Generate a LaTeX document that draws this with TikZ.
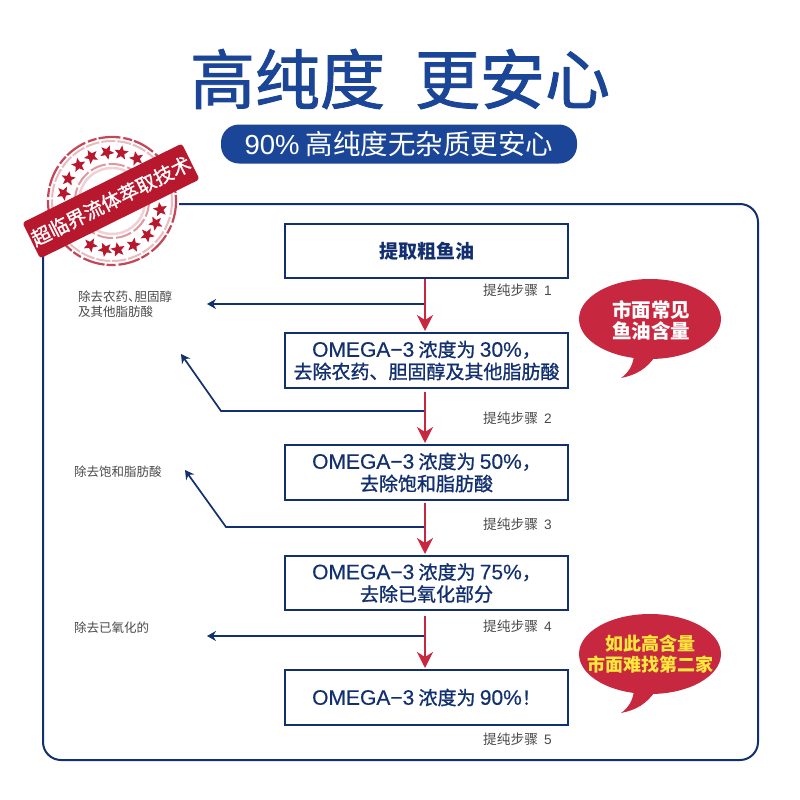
\documentclass[tikz,border=0pt]{standalone}
\usepackage{fontspec}
\usetikzlibrary{shapes.geometric,arrows.meta}
\setmainfont{Noto Sans CJK SC}
\newfontfamily\lat{Liberation Sans}
\newfontfamily\medfont[FakeBold=1.1]{Noto Sans CJK SC}
\newfontfamily\titlefont[FakeBold=1.4]{Noto Sans CJK SC}
\newfontfamily\latmed[FakeBold=0.4]{Liberation Sans}
\newcommand{\om}[1]{{\fontsize{21}{23}\latmed #1}}
\newcommand{\stepnum}[1]{\hspace{3pt}{\lat #1}}
\definecolor{navy}{HTML}{12306F}
\definecolor{titleblue}{HTML}{1B4596}
\definecolor{crimson}{HTML}{C8283F}
\definecolor{stampred}{HTML}{B8182E}
\definecolor{graytext}{HTML}{4A4A4A}
\definecolor{bubbleyellow}{HTML}{FFE83C}
\tikzset{
  flowbox/.style={draw=navy,line width=2pt,fill=white,minimum width=283pt,align=center,text=navy,inner sep=0pt,font=\fontsize{19}{22}\selectfont\medfont},
  redarrow/.style={draw=crimson,line width=2.4pt,-{Stealth[length=16pt,width=16pt,inset=5pt]}},
  bluearrow/.style={draw=navy,line width=1.7pt,-{Stealth[length=9pt,width=10pt,inset=3pt]}},
  steplabel/.style={text=graytext,anchor=west,inner sep=0pt,font=\fontsize{13.7}{15}\selectfont},
  sidelabel/.style={text=graytext,anchor=north west,align=left,inner sep=0pt,font=\fontsize{12.5}{14.5}\selectfont},
  starmark/.style={star,star points=5,star point ratio=2.3,fill=stampred,minimum size=15pt,inner sep=0pt},
  bubbletext/.style={align=center,inner sep=0pt,font=\fontsize{19.5}{21}\selectfont\bfseries},
}
\begin{document}
\begin{tikzpicture}[x=1pt,y=-1pt]
\useasboundingbox (0,0) rectangle (800,800);
% title
\node[text=titleblue,inner sep=0pt,font=\fontsize{65}{70}\selectfont\titlefont] (title) at (400,79) {高纯度\hspace{30pt}更安心};
\node[fill=titleblue,rounded corners=18pt,minimum width=356pt,minimum height=39pt,inner sep=0pt,text=white,font=\fontsize{27.5}{30}\selectfont] (pill) at (399,144) {{\lat 90\%} 高纯度无杂质更安心};
% frame
\draw[navy,line width=2pt,rounded corners=18pt] (43,204) rectangle (758,760);
% stamp
\fill[white] (112,201) circle (67);
\draw[stampred!80,line width=2.2pt,dash pattern=on 22pt off 3pt on 9pt off 2pt] (112,201) circle (64);
\draw[stampred!30,line width=2pt,dash pattern=on 14pt off 2pt] (112,201) circle (60);
\draw[stampred!45,line width=2pt,dash pattern=on 16pt off 3pt] (112,201) circle (37);
\draw[stampred!20,line width=2.5pt] (112,201) circle (33);
\foreach \a in {10,27,44,64,83,98,116,189,207,227,245,264,281,300}
  \node[starmark,rotate=\a] (st\a) at ({112+49*cos(\a)},{201+49*sin(\a)}) {};
\node[fill=stampred,rounded corners=3pt,rotate=26.4,minimum width=178pt,minimum height=40pt,inner sep=0pt,text=white,font=\fontsize{19.5}{24}\selectfont\medfont] (ribbon) at (111,201) {超临界流体萃取技术};
% boxes
\node[flowbox,minimum height=54pt,font=\fontsize{19}{22}\selectfont\bfseries] (b1) at (426.5,251) {提取粗鱼油};
\node[flowbox,minimum height=55pt] (b2) at (426.5,360.5) {\om{OMEGA−3} 浓度为 \om{30\%}，\\去除农药、胆固醇及其他脂肪酸};
\node[flowbox,minimum height=55pt] (b3) at (426.5,472.5) {\om{OMEGA−3} 浓度为 \om{50\%}，\\去除饱和脂肪酸};
\node[flowbox,minimum height=54pt] (b4) at (426.5,583) {\om{OMEGA−3} 浓度为 \om{75\%}，\\去除已氧化部分};
\node[flowbox,minimum height=55pt] (b5) at (426.5,697.5) {\om{OMEGA−3} 浓度为 \om{90\%}！};
% branch points
\coordinate (j1) at (425,304);
\coordinate (j2) at (425,411);
\coordinate (j3) at (425,527);
\coordinate (j4) at (425,636);
\coordinate (e1) at (207,304);
\coordinate (k2) at (221,411);
\coordinate (e2) at (181,354);
\coordinate (k3) at (226,527);
\coordinate (e3) at (185,470);
\coordinate (e4) at (207,636);
\coordinate (s1) at (425,279);
\coordinate (s2) at (425,392);
\coordinate (s3) at (425,503);
\coordinate (s4) at (425,616);
\coordinate (t1) at (425,331);
\coordinate (t2) at (425,443);
\coordinate (t3) at (425,554);
\coordinate (t4) at (425,668);
% blue branches
\draw[bluearrow] (j1) -- (e1);
\draw[bluearrow] (j2) -- (k2) -- (e2);
\draw[bluearrow] (j3) -- (k3) -- (e3);
\draw[bluearrow] (j4) -- (e4);
% red arrows
\draw[redarrow] (s1) -- (t1);
\draw[redarrow] (s2) -- (t2);
\draw[redarrow] (s3) -- (t3);
\draw[redarrow] (s4) -- (t4);
% step labels
\node[steplabel] (l1) at (483,290) {提纯步骤 \stepnum{1}};
\node[steplabel] (l2) at (483,418) {提纯步骤 \stepnum{2}};
\node[steplabel] (l3) at (483,524) {提纯步骤 \stepnum{3}};
\node[steplabel] (l4) at (483,626) {提纯步骤 \stepnum{4}};
\node[steplabel] (l5) at (483,739) {提纯步骤 \stepnum{5}};
% side labels
\node[sidelabel] (n1) at (78,291) {除去农药、\hspace{-6pt}胆固醇\\及其他脂肪酸};
\node[sidelabel] (n2) at (74,466) {除去饱和脂肪酸};
\node[sidelabel] (n3) at (74,622) {除去已氧化的};
% bubbles
\fill[crimson] (650,319) ellipse (71 and 40);
\fill[crimson] (634,355) .. controls (633,366) and (628,373) .. (621,378) .. controls (636,375) and (647,369) .. (656,355) -- cycle;
\node[bubbletext,text=white] (q1) at (651,320) {市面常见\\鱼油含量};
\fill[crimson] (650,654) ellipse (71 and 40);
\fill[crimson] (634,690) .. controls (633,701) and (628,708) .. (621,713) .. controls (636,710) and (647,704) .. (656,690) -- cycle;
\node[bubbletext,text=bubbleyellow,font=\fontsize{18}{21}\selectfont\bfseries] (q2) at (650,654) {如此高含量\\市面难找第二家};
\end{tikzpicture}
\end{document}
